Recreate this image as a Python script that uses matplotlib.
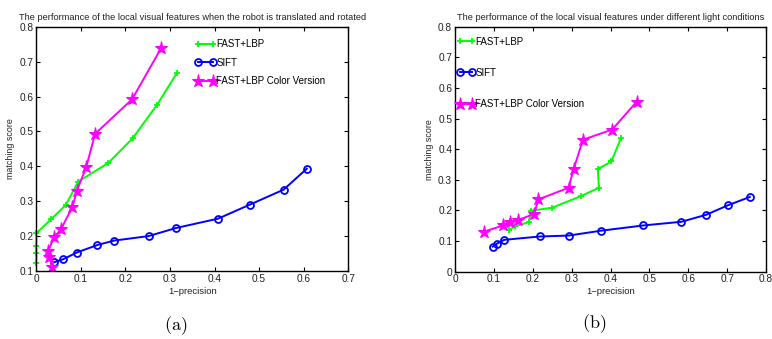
import numpy as np
import matplotlib
matplotlib.use('Agg')
import matplotlib.pyplot as plt

plt.rcParams['font.family'] = ['Liberation Sans', 'DejaVu Sans']
plt.rcParams['mathtext.fontset'] = 'cm'

# (a) robot translated and rotated
a_fast_x = [0, 0, 0, 0, 0.033, 0.066, 0.094, 0.162, 0.216, 0.271, 0.315]
a_fast_y = [0.124, 0.153, 0.172, 0.208, 0.248, 0.289, 0.356, 0.41, 0.48, 0.576, 0.666]
a_sift_x = [0.040, 0.061, 0.091, 0.136, 0.174, 0.252, 0.313, 0.408, 0.479, 0.555, 0.607]
a_sift_y = [0.125, 0.134, 0.153, 0.174, 0.187, 0.200, 0.223, 0.250, 0.290, 0.333, 0.393]
a_color_x = [0.036, 0.029, 0.027, 0.040, 0.055, 0.081, 0.091, 0.112, 0.132, 0.215, 0.280]
a_color_y = [0.111, 0.141, 0.158, 0.197, 0.219, 0.283, 0.330, 0.397, 0.493, 0.592, 0.738]

# (b) different light conditions
b_fast_x = [0.138, 0.154, 0.190, 0.195, 0.250, 0.324, 0.370, 0.367, 0.402, 0.427]
b_fast_y = [0.135, 0.148, 0.162, 0.199, 0.209, 0.247, 0.274, 0.335, 0.360, 0.437]
b_sift_x = [0.097, 0.107, 0.126, 0.218, 0.292, 0.376, 0.484, 0.582, 0.646, 0.702, 0.758]
b_sift_y = [0.082, 0.091, 0.104, 0.115, 0.118, 0.134, 0.151, 0.163, 0.186, 0.217, 0.244]
b_color_x = [0.075, 0.124, 0.142, 0.161, 0.204, 0.214, 0.292, 0.305, 0.329, 0.404, 0.467]
b_color_y = [0.131, 0.151, 0.163, 0.168, 0.189, 0.236, 0.274, 0.335, 0.431, 0.464, 0.555]

labels = ['FAST+LBP', 'SIFT', 'FAST+LBP Color Version']
titles = ['The performance of the local visual features when the robot is translated and rotated',
          'The performance of the local visual features under different light conditions']

fig = plt.figure(figsize=(7.72, 3.39), dpi=100)
axA = fig.add_axes([0.047, 0.2006, 0.404, 0.7206])
axB = fig.add_axes([0.5894, 0.1985, 0.403, 0.7227])

def draw(ax, fx, fy, sx, sy, cx, cy):
    ax.plot(fx, fy, color='#00ff00', lw=1.4, marker='+', ms=5, mew=1.3, label=labels[0], clip_on=False)
    ax.plot(sx, sy, color='#0000ff', lw=1.4, marker='o', ms=5, mew=1.3, mfc='none', label=labels[1])
    ax.plot(cx, cy, color='#ff00ff', lw=1.4, marker='*', ms=9.5, mew=0.8, label=labels[2])

draw(axA, a_fast_x, a_fast_y, a_sift_x, a_sift_y, a_color_x, a_color_y)
draw(axB, b_fast_x, b_fast_y, b_sift_x, b_sift_y, b_color_x, b_color_y)

axA.set_xlim(0, 0.7)
axA.set_ylim(0.1, 0.8)
axA.set_xticks(np.arange(0, 0.71, 0.1))
axA.set_xticklabels(['0', '0.1', '0.2', '0.3', '0.4', '0.5', '0.6', '0.7'])
axA.set_yticks(np.arange(0.1, 0.81, 0.1))
axA.set_yticklabels(['0.1', '0.2', '0.3', '0.4', '0.5', '0.6', '0.7', '0.8'])

axB.set_xlim(0, 0.8)
axB.set_ylim(0, 0.8)
axB.set_xticks(np.arange(0, 0.81, 0.1))
axB.set_xticklabels(['0', '0.1', '0.2', '0.3', '0.4', '0.5', '0.6', '0.7', '0.8'])
axB.set_yticks(np.arange(0, 0.81, 0.1))
axB.set_yticklabels(['0', '0.1', '0.2', '0.3', '0.4', '0.5', '0.6', '0.7', '0.8'])

for ax, t in zip([axA, axB], titles):
    ax.tick_params(direction='in', top=True, right=True, length=3, width=0.8,
                   labelsize=7.3, pad=2, colors='black', labelcolor='#222222')
    for s in ax.spines.values():
        s.set_linewidth(1.0)
    ax.set_title(t, fontsize=6.7, pad=5, color='#222222')
    ax.set_xlabel('1\u2212precision', fontsize=6.8, labelpad=2, color='#222222')
    ax.set_ylabel('matching score', fontsize=6.4, labelpad=3, color='#222222')

axA.legend(loc='upper left', bbox_to_anchor=(0.51, 0.95), frameon=False, fontsize=7,
           numpoints=2, handlelength=2.1, handletextpad=0.05, labelspacing=0.9, borderpad=0,
           borderaxespad=0)
axB.legend(loc='upper left', bbox_to_anchor=(0.008, 0.96), frameon=False, fontsize=7,
           numpoints=2, handlelength=1.8, handletextpad=0.05, labelspacing=2.2, borderpad=0,
           borderaxespad=0)

fig.text(0.228, 0.027, r'$\mathrm{(a)}$', fontsize=13, ha='center', va='baseline')
fig.text(0.769, 0.032, r'$\mathrm{(b)}$', fontsize=13, ha='center', va='baseline')

fig.savefig('out.png', dpi=100)
